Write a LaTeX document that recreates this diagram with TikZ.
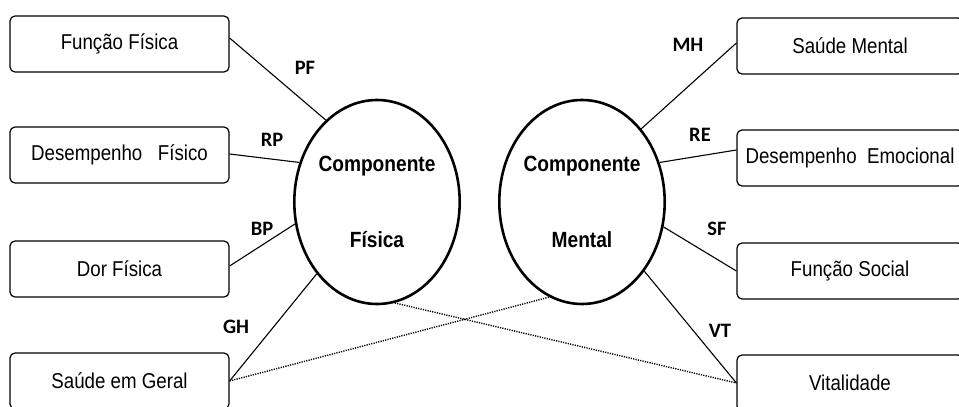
\documentclass[tikz,border=0pt]{standalone}
\usepackage{fontspec}
\usepackage{tikz}
\usetikzlibrary{arrows.meta,positioning,shapes.geometric,calc}
\setmainfont{Liberation Sans}
\newfontfamily\boxfont[FakeStretch=0.87]{Liberation Sans}
\newfontfamily\lblfont{Carlito}
\tikzset{
    % Scale box style
    scalebox/.style={draw,rounded corners=5pt,line width=1.2pt,minimum height=56pt,
        inner sep=0pt,font=\boxfont\fontsize{21.5}{25}\selectfont},
    % Component ellipse style
    component/.style={ellipse,draw,line width=2.6pt,minimum width=154pt,minimum height=204pt,
        inner sep=0pt,align=center,font=\boxfont\bfseries\fontsize{22}{26}\selectfont},
    % Loading line
    loading/.style={line width=1.1pt},
    % Cross loading line
    crossload/.style={line width=1.4pt,dash pattern=on 1.2pt off 1.2pt},
    % Abbreviation label
    abbrev/.style={font=\lblfont\bfseries\fontsize{20.5}{24}\selectfont}
}

\begin{document}
\begin{tikzpicture}[x=1pt,y=-1pt]
    \useasboundingbox (0,0) rectangle (959,407);

    % Physical scales
    \node[scalebox,minimum width=219pt] (pf) at (119.5,44) {Função Física};
    \node[scalebox,minimum width=219pt] (rp) at (119.5,155) {Desempenho\ \ \ Físico};
    \node[scalebox,minimum width=219pt] (bp) at (119.5,269) {Dor Física};
    \node[scalebox,minimum width=219pt] (gh) at (119.5,381) {Saúde em Geral};

    % Mental scales
    \node[scalebox,minimum width=226pt] (mh) at (850,46) {Saúde Mental};
    \node[scalebox,minimum width=226pt] (re) at (850,158) {Desempenho\ \ Emocional};
    \node[scalebox,minimum width=226pt] (sf) at (850,271) {Função Social};
    \node[scalebox,minimum width=226pt] (vt) at (850,383) {Vitalidade};

    % Summary components
    \node[component] (fis) at (377,202) {Componente\\[50pt]Física};
    \node[component] (men) at (582,202) {Componente\\[50pt]Mental};

    % Loadings on physical component
    \draw[loading] ([yshift=6pt]pf.east) -- (fis.122);
    \draw[loading] ([yshift=1pt]rp.east) -- (fis.153);
    \draw[loading] ([yshift=3pt]bp.east) -- (fis.195);
    \draw[loading] (gh.east) -- (fis.230);

    % Loadings on mental component
    \draw[loading] ([yshift=3pt]mh.west) -- (men.51);
    \draw[loading] ([yshift=8pt]re.west) -- (men.27);
    \draw[loading] (sf.west) -- (men.-17);
    \draw[loading] (vt.west) -- (men.-48);

    % Cross loadings
    \draw[crossload] (gh.east) -- (men.251);
    \draw[crossload] (fis.280) -- (vt.west);

    % Labels
    \node[abbrev] (lpf) at (305,68) {PF};
    \node[abbrev] (lrp) at (272,140) {RP};
    \node[abbrev] (lbp) at (262,229) {BP};
    \node[abbrev] (lgh) at (236,327) {GH};
    \node[abbrev] (lmh) at (688,45) {MH};
    \node[abbrev] (lre) at (700,135) {RE};
    \node[abbrev] (lsf) at (717,229) {SF};
    \node[abbrev] (lvt) at (720,331) {VT};
\end{tikzpicture}
\end{document}
